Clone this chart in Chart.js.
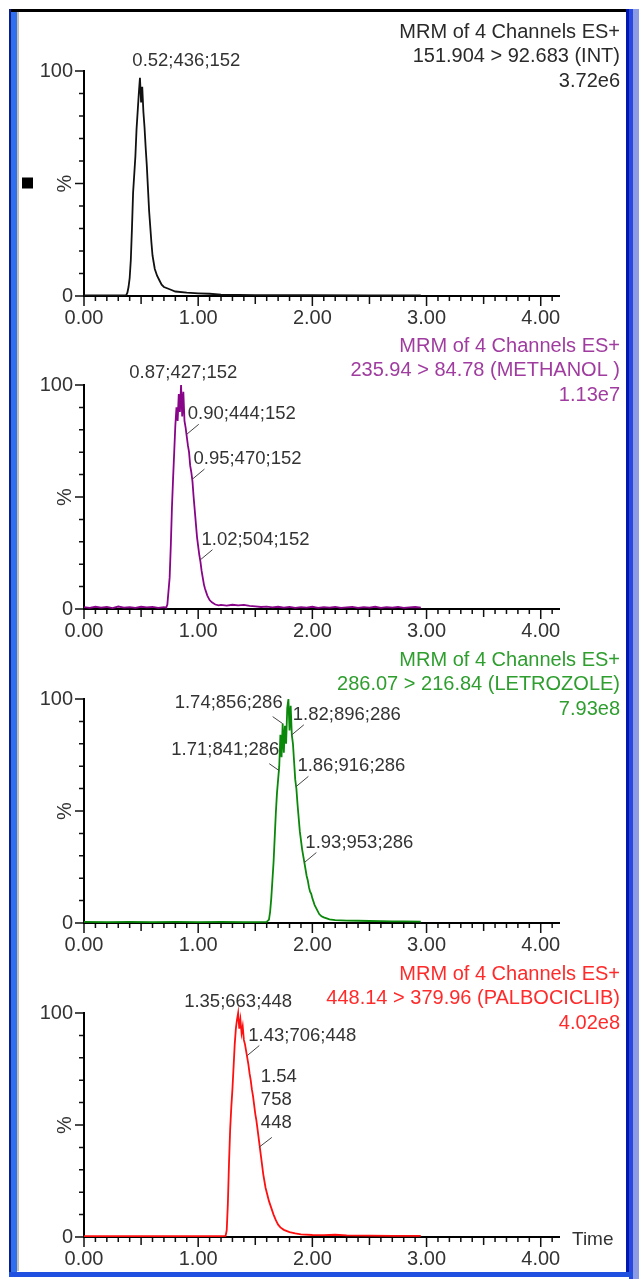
<!DOCTYPE html>
<html><head><meta charset="utf-8">
<script src="https://cdn.jsdelivr.net/npm/chart.js@4.4.0/dist/chart.umd.min.js"></script>
<style>
html,body{margin:0;padding:0;background:#fff;width:639px;height:1279px;overflow:hidden;position:relative}
.f{position:absolute}
canvas{position:absolute;left:0;z-index:2}
</style></head>
<body>
<div class="f" style="left:9px;top:9px;width:618px;height:3px;background:#000"></div>
<div class="f" style="left:9px;top:9px;width:2px;height:1268px;background:#0a1e8c"></div>
<div class="f" style="left:11px;top:12px;width:6px;height:1262px;background:#2f6ff0"></div>
<div class="f" style="left:17px;top:12px;width:2px;height:1259px;background:#c8c0a8"></div>
<div class="f" style="left:626px;top:9px;width:3px;height:1268px;background:#0018b0"></div>
<div class="f" style="left:629px;top:9px;width:4px;height:1270px;background:#2a48e0"></div>
<div class="f" style="left:633px;top:9px;width:6px;height:1270px;background:#8c9ce4"></div>
<div class="f" style="left:9px;top:1272px;width:624px;height:5px;background:#2050e0"></div>
<script>
const FONT = '"Liberation Sans", Arial, sans-serif';
const xTickLabels = [0, 1, 2, 3, 4];
const yTickLabels = [0, 100];
const minorStep = 0.1;

// Panel 1 : INT
const header1 = ['MRM of 4 Channels ES+', '151.904 > 92.683 (INT)', '3.72e6'];
const time1 = [0.00,0.10,0.20,0.30,0.37,0.38,0.39,0.40,0.41,0.42,0.43,0.44,0.45,0.46,0.47,0.48,0.49,0.50,0.51,0.52,0.53,0.54,0.55,0.56,0.57,0.58,0.59,0.60,0.61,0.62,0.64,0.66,0.68,0.70,0.75,0.80,0.90,1.00,1.10,1.20,1.50,2.00,2.50,2.95];
const int1  = [0.3,0.3,0.3,0.3,0.4,1.5,4,8,16,30,46,54,62,74,82,90,97,86,93,82,75,66,58,48,38,31,24,18,15,12,9,7,5,4,3,2,1.5,1.2,1.0,0.6,0.4,0.4,0.3,0.3];
const peakTime1 = [0.52];
const peakLevel1 = [97];
const peakText1 = ['0.52;436;152'];

// Panel 2 : METHANOL
const header2 = ['MRM of 4 Channels ES+', '235.94 > 84.78 (METHANOL )', '1.13e7'];
const time2 = [0.00,0.05,0.10,0.15,0.20,0.25,0.30,0.35,0.40,0.45,0.50,0.55,0.60,0.65,0.70,0.72,
  0.73,0.74,0.75,0.76,0.77,0.78,0.79,0.80,0.81,0.82,0.83,0.84,0.85,0.86,0.87,0.88,0.89,0.90,0.91,0.92,0.93,0.94,0.95,0.96,0.97,0.98,0.99,1.00,1.01,1.02,1.03,1.04,1.05,1.06,
  1.08,1.10,1.12,1.15,1.18,
  1.20,1.25,1.30,1.35,1.40,1.45,1.50,1.55,1.60,1.65,1.70,1.75,1.80,1.85,1.90,1.95,2.00,2.05,2.10,2.15,2.20,2.25,2.30,2.35,2.40,2.45,2.50,2.55,2.60,2.65,2.70,2.75,2.80,2.85,2.90,2.95];
const int2 = [0.8,0.5,1.0,0.6,0.9,0.4,1.1,0.6,0.8,0.5,1.0,0.7,0.9,0.5,0.8,0.6,
  2,8,14,28,45,58,70,82,90,84,96,88,100,86,97,84,81,77,73,70,64,61,57,50,44,38,32,28,24,21,17,14,11,9,
  6,4,3,2,1.6,
  1.8,1.5,1.9,1.6,1.8,1.4,1.2,0.9,1.1,0.7,1.0,0.6,0.9,0.5,0.8,0.6,1.0,0.5,0.8,0.6,0.9,0.5,0.7,0.9,0.5,0.8,0.6,1.0,0.5,0.8,0.6,0.9,0.5,0.7,0.9,0.6];
const peakTime2 = [0.87, 0.90, 0.95, 1.02];
const peakLevel2 = [100, 78, 58, 22];
const peakText2 = ['0.87;427;152', '0.90;444;152', '0.95;470;152', '1.02;504;152'];

// Panel 3 : LETROZOLE
const header3 = ['MRM of 4 Channels ES+', '286.07 > 216.84 (LETROZOLE)', '7.93e8'];
const time3 = [0.00,0.20,0.40,0.60,0.80,1.00,1.20,1.40,1.60,
  1.62,1.63,1.64,1.65,1.66,1.67,1.68,1.69,1.70,1.71,1.72,1.73,1.74,1.75,1.76,1.77,1.78,1.79,1.80,1.81,1.82,1.83,1.84,1.85,1.86,1.87,1.88,1.89,1.90,1.91,1.92,1.93,1.94,1.95,1.96,1.97,1.98,1.99,2.00,
  2.02,2.04,2.06,2.08,2.10,2.15,2.20,2.30,2.40,2.50,2.60,2.70,2.80,2.95];
const int3 = [0.5,0.4,0.5,0.4,0.5,0.4,0.5,0.4,0.5,
  1.5,5,11,19,27,38,49,58,64,70,84,74,89,76,88,80,96,100,86,97,84,80,72,64,60,53,47,41,37,33,30,27,24,21,19,16,14,13,11,
  8,6,4,3,2.5,1.6,1.3,1.1,1.0,0.9,0.8,0.7,0.7,0.6];
const peakTime3 = [1.74, 1.71, 1.82, 1.86, 1.93];
const peakLevel3 = [89, 68, 84, 61, 27];
const peakText3 = ['1.74;856;286', '1.71;841;286', '1.82;896;286', '1.86;916;286', '1.93;953;286'];

// Panel 4 : PALBOCICLIB
const header4 = ['MRM of 4 Channels ES+', '448.14 > 379.96 (PALBOCICLIB)', '4.02e8'];
const time4 = [0.00,0.20,0.40,0.60,0.80,1.00,1.20,1.24,
  1.25,1.26,1.27,1.28,1.29,1.30,1.31,1.32,1.33,1.34,1.35,1.36,1.37,1.38,1.39,1.40,1.41,1.42,1.43,1.44,1.45,1.46,1.47,1.48,1.49,1.50,1.51,1.52,1.53,1.54,1.55,1.56,1.57,1.58,1.59,1.60,
  1.62,1.64,1.66,1.68,1.70,1.72,1.75,1.80,1.85,1.90,2.00,2.10,2.20,2.30,2.50,2.70,2.95];
const int4 = [0.4,0.4,0.4,0.4,0.4,0.4,0.4,0.5,
  3,15,33,48,58,66,76,86,93,97,100,93,97,91,94,88,86,83,80,77,73,70,66,63,59,55,52,48,44,40,36,32,28,25,22,20,
  16,13,10,7.5,5.5,4.3,3.2,2.2,1.6,1.2,0.9,0.8,1.0,0.7,0.6,0.5,0.5];
const peakTime4 = [1.35, 1.43, 1.54];
const peakLevel4 = [100, 81, 40];
const peakText4 = ['1.35;663;448', '1.43;706;448', '1.54;758;448'];

// ---- layout / style (not data) ----
const plotTops = [71, 385, 699, 1013];
const plotHeights = [225, 224, 224, 224];
const labelLayout = [
  [{kind:'top', dx:43, dy:-17}],
  [{kind:'top', dx:0, dy:-12}, {kind:'right'}, {kind:'right'}, {kind:'right'}],
  [{kind:'left'}, {kind:'left'}, {kind:'right'}, {kind:'right'}, {kind:'right'}],
  [{kind:'top', dx:0, dy:-11}, {kind:'right'}, {kind:'stack'}]
];
const panels = [
  {time:time1, val:int1, pt:peakTime1, pl:peakLevel1, ptx:peakText1, header:header1, line:'#111111', text:'#2a2a2a'},
  {time:time2, val:int2, pt:peakTime2, pl:peakLevel2, ptx:peakText2, header:header2, line:'#880488', text:'#a03ca0'},
  {time:time3, val:int3, pt:peakTime3, pl:peakLevel3, ptx:peakText3, header:header3, line:'#0a880a', text:'#2e9e2e'},
  {time:time4, val:int4, pt:peakTime4, pl:peakLevel4, ptx:peakText4, header:header4, line:'#ff1010', text:'#ff2a2a'}
];
const CH = 330, TOPPAD = 64, XAXH = 40;

function makeDecor(p, i) {
  return {
    id: 'decor' + i,
    afterDraw(chart) {
      const ctx = chart.ctx, xs = chart.scales.x, ys = chart.scales.y, ca = chart.chartArea;
      ctx.save();
      // tick marks
      ctx.strokeStyle = '#111'; ctx.lineWidth = 1.5;
      ctx.beginPath();
      for (let k = 0; k * minorStep <= xs.max + 1e-9; k++) {
        const px = xs.getPixelForValue(k * minorStep);
        const L = (k % 10 === 0) ? 9 : ((k % 5 === 0) ? 7 : 4);
        ctx.moveTo(px, ca.bottom + 1); ctx.lineTo(px, ca.bottom + 1 + L);
      }
      for (let v = 0; v <= 100; v += 10) {
        const py = ys.getPixelForValue(v);
        const L = (v % 50 === 0) ? 8 : 4;
        ctx.moveTo(ca.left - 1, py); ctx.lineTo(ca.left - 1 - L, py);
      }
      ctx.stroke();
      // % label
      ctx.save();
      ctx.fillStyle = '#333'; ctx.font = '20px ' + FONT;
      ctx.textAlign = 'center'; ctx.textBaseline = 'middle';
      ctx.translate(ca.left - 19, ys.getPixelForValue(50));
      ctx.rotate(-Math.PI / 2);
      ctx.fillText('%', 0, 0);
      ctx.restore();
      // header
      ctx.fillStyle = p.text; ctx.font = '20px ' + FONT;
      ctx.textAlign = 'right'; ctx.textBaseline = 'middle';
      p.header.forEach((s, j) => ctx.fillText(s, ca.right + 61, ca.top - 39 + 24.5 * j));
      // peak labels
      ctx.fillStyle = '#333'; ctx.strokeStyle = '#444'; ctx.lineWidth = 1;
      ctx.font = '18.5px ' + FONT;
      p.pt.forEach((t, k) => {
        const ax = xs.getPixelForValue(t), ay = ys.getPixelForValue(p.pl[k]);
        const L = labelLayout[i][k], txt = p.ptx[k];
        const seg = (x1, y1, x2, y2) => { ctx.beginPath(); ctx.moveTo(x1, y1); ctx.lineTo(x2, y2); ctx.stroke(); };
        if (L.kind === 'top') {
          ctx.textAlign = 'center'; ctx.fillText(txt, ax + L.dx, ay + L.dy);
        } else if (L.kind === 'right') {
          seg(ax, ay, ax + 12, ay - 10);
          ctx.textAlign = 'left'; ctx.fillText(txt, ax + 1, ay - 20);
        } else if (L.kind === 'left') {
          seg(ax, ay, ax - 10, ay - 7);
          ctx.textAlign = 'right'; ctx.fillText(txt, ax, ay - 21);
        } else if (L.kind === 'stack') {
          seg(ax - 1, ay, ax + 12, ay - 10);
          ctx.textAlign = 'left';
          txt.split(';').forEach((s, j) => ctx.fillText(s, ax + 1, ay - 70 + 23 * j));
        }
      });
      if (i === 0) {
        ctx.fillStyle = '#000';
        ctx.fillRect(22, ys.getPixelForValue(50) - 6, 11, 11);
      }
      if (i === 3) {
        ctx.fillStyle = '#333'; ctx.font = '19px ' + FONT;
        ctx.textAlign = 'left'; ctx.textBaseline = 'middle';
        ctx.fillText('Time', ca.right + 13, ca.bottom + 3);
      }
      ctx.restore();
    }
  };
}

panels.forEach((p, i) => {
  const cv = document.createElement('canvas');
  cv.width = 639; cv.height = CH;
  cv.style.width = '639px'; cv.style.height = CH + 'px';
  cv.style.top = (plotTops[i] - TOPPAD) + 'px';
  document.body.appendChild(cv);
  new Chart(cv, {
    type: 'scatter',
    data: { datasets: [{
      data: p.time.map((t, k) => ({ x: t, y: p.val[k] })),
      showLine: true, borderColor: p.line, borderWidth: 1.8,
      pointRadius: 0, tension: 0, clip: false
    }] },
    options: {
      responsive: false, animation: false, devicePixelRatio: 1, events: [],
      layout: { padding: { top: TOPPAD, left: 0, right: 80, bottom: CH - TOPPAD - plotHeights[i] - XAXH } },
      plugins: { legend: { display: false }, tooltip: { enabled: false } },
      scales: {
        x: {
          type: 'linear', min: 0, max: 4.16,
          grid: { display: false, drawTicks: false },
          border: { display: true, color: '#000', width: 2 },
          ticks: { color: '#333', font: { family: FONT, size: 20 }, padding: 10, maxRotation: 0, autoSkip: false,
                   callback: v => Number(v).toFixed(2) },
          afterBuildTicks: s => { s.ticks = xTickLabels.map(v => ({ value: v })); },
          afterFit: s => { s.height = XAXH; }
        },
        y: {
          type: 'linear', min: 0, max: 100,
          grid: { display: false, drawTicks: false },
          border: { display: true, color: '#000', width: 2 },
          ticks: { color: '#333', font: { family: FONT, size: 20 }, padding: 11,
                   callback: v => String(v) },
          afterBuildTicks: s => { s.ticks = yTickLabels.map(v => ({ value: v })); },
          afterFit: s => { s.width = 84; }
        }
      }
    },
    plugins: [makeDecor(p, i)]
  });
});
</script>
</body></html>
